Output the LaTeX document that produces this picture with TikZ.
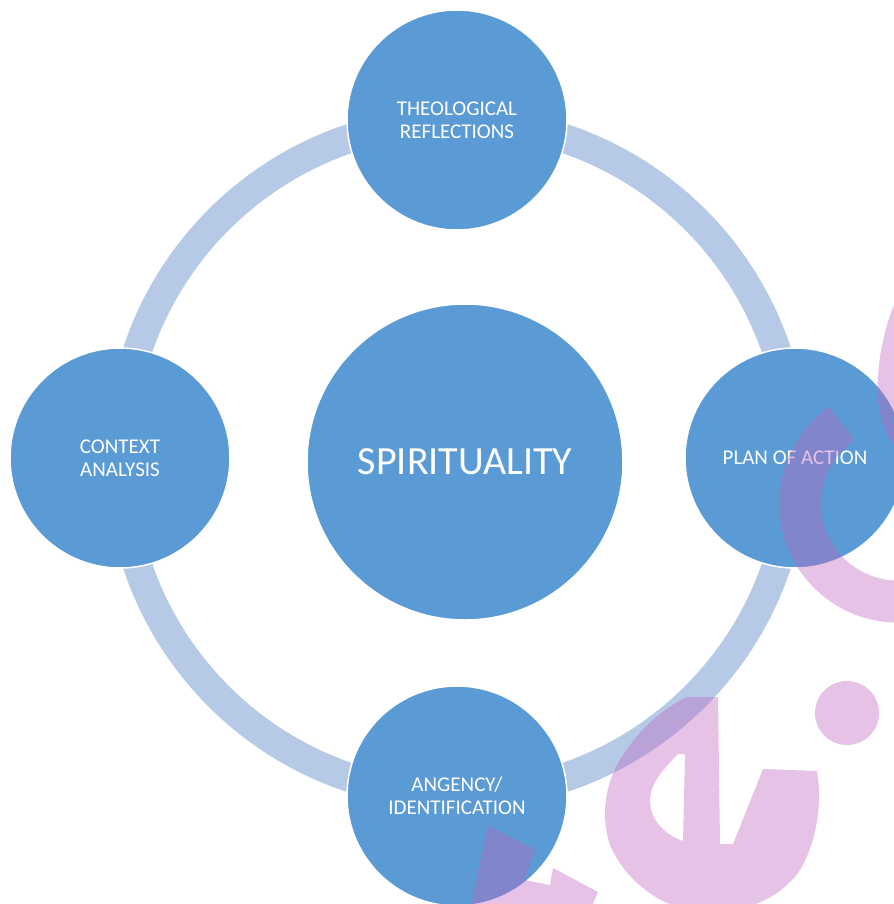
\documentclass[tikz,border=0pt]{standalone}
\usepackage{fontspec}
\setmainfont{Carlito}
\definecolor{bubblue}{RGB}{91,155,213}
\definecolor{ringblue}{RGB}{182,202,231}
\definecolor{wmpink}{RGB}{191,101,191}
\begin{document}
\begin{tikzpicture}[x=1bp,y=-1bp,
  bub/.style={circle, fill=bubblue, draw=white, line width=1.5bp, minimum size=220bp, inner sep=0pt, align=center, text=white, font=\fontsize{21bp}{23bp}\selectfont},
  ringline/.style={draw=ringblue, line width=29bp},
  wm/.style={fill=wmpink, fill opacity=0.39, draw=none},
  wmline/.style={draw=wmpink, draw opacity=0.39, line width=42bp}]
\useasboundingbox (0,0) rectangle (894,904);
\coordinate (ringc) at (457,458);
\draw[ringline] (ringc) circle[radius=337];
\node[bub] (top) at (457,120) {THEOLOGICAL\\REFLECTIONS};
\node[bub] (left) at (120,458) {CONTEXT\\ANALYSIS};
\node[bub] (right) at (795,458) {PLAN OF ACTION};
\node[bub] (bottom) at (457,796) {ANGENCY/\\IDENTIFICATION};
\node[bub, minimum size=316bp, font=\fontsize{40bp}{44bp}\selectfont] (center) at (465,462) {SPIRITUALITY};
% watermark
\coordinate (cc) at (897,502);
\draw[wmline] (cc) ++(235:96) arc[start angle=235, end angle=-10, radius=98];
\fill[wm] (894,305) .. controls (882,335) and (876,370) .. (878,400) .. controls (880,420) and (886,435) .. (894,445) -- cycle;
\fill[wm] (847,713) circle[radius=32];
\fill[wm, even odd rule] (687,697) -- (718,697) -- (720,844) -- (733,844) -- (763,769) -- (817,771)
  .. controls (822,800) and (818,840) .. (800,870) .. controls (780,900) and (740,915) .. (700,912)
  .. controls (660,908) and (625,880) .. (610,845) .. controls (600,815) and (605,780) .. (625,752)
  .. controls (640,730) and (660,710) .. (687,697) -- cycle
  (678,754) .. controls (662,770) and (650,785) .. (650,800) .. controls (650,820) and (665,835) .. (683,841) -- (685,754) -- cycle;
\fill[wm] (488,825) -- (535,850) -- (525,880) -- (550,885) -- (553,868) -- (598,892) -- (590,910) -- (470,910) -- cycle;
\end{tikzpicture}
\end{document}
